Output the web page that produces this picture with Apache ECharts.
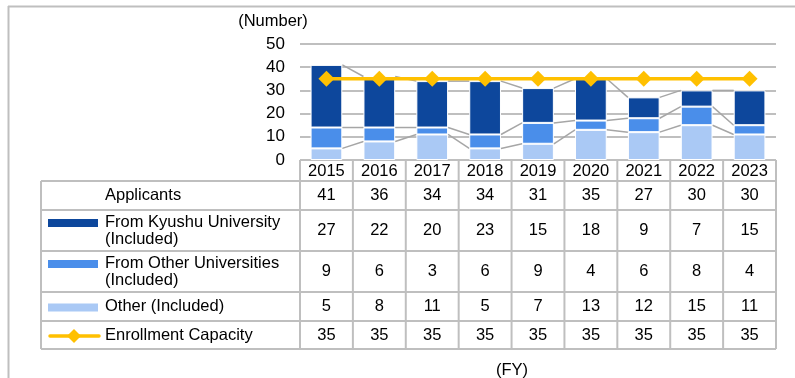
<!DOCTYPE html>
<html>
<head>
<meta charset="utf-8">
<script src="https://cdn.jsdelivr.net/npm/echarts@6/dist/echarts.min.js"></script>
<style>
  html, body { margin: 0; padding: 0; background: #fff; }
  #main { width: 795px; height: 378px; }
</style>
</head>
<body>
<div id="main"></div>
<script>
// Fiscal years and applicant breakdown
const years = ['2015', '2016', '2017', '2018', '2019', '2020', '2021', '2022', '2023'];
const applicants = [41, 36, 34, 34, 31, 35, 27, 30, 30];
const fromKyushu = [27, 22, 20, 23, 15, 18, 9, 7, 15];
const fromOtherUniv = [9, 6, 3, 6, 9, 4, 6, 8, 4];
const otherApplicants = [5, 8, 11, 5, 7, 13, 12, 15, 11];
const capacity = [35, 35, 35, 35, 35, 35, 35, 35, 35];
const yTicks = [0, 10, 20, 30, 40, 50];

const FONT = '"Liberation Sans", Arial, sans-serif';
const TEXT_SIZE = 16.5;
const C_DARK = '#0D479C';
const C_MID = '#4A8EEA';
const C_LIGHT = '#AAC9F5';
const C_CAP = '#FFC000';
const C_GRID = '#BFBFBF';

// Cumulative stack tops used by the series lines between bars
const top1 = otherApplicants.map(v => v);
const top2 = otherApplicants.map((v, i) => v + fromOtherUniv[i]);
const top3 = top2.map((v, i) => v + fromKyushu[i]);
const connectors = [];
for (let i = 0; i < years.length - 1; i++) {
  connectors.push([i, top1[i], top2[i], top3[i], top1[i + 1], top2[i + 1], top3[i + 1]]);
}

const BAR_RATIO = 0.6;
const chart = echarts.init(document.getElementById('main'), null, { renderer: 'canvas' });

chart.setOption({
  animation: false,
  backgroundColor: '#fff',
  textStyle: { fontFamily: FONT },
  grid: { left: 300, right: 19, top: 44, bottom: 218, containLabel: false },
  xAxis: {
    type: 'category',
    data: years,
    axisLine: { show: false },
    axisTick: { show: false },
    axisLabel: { color: '#000', fontSize: TEXT_SIZE, fontFamily: FONT, margin: 3, interval: 0 }
  },
  yAxis: {
    type: 'value',
    min: yTicks[0],
    max: yTicks[yTicks.length - 1],
    interval: 10,
    axisLine: { show: false },
    axisTick: { show: false },
    axisLabel: { color: '#000', fontSize: 17, fontFamily: FONT, margin: 15 },
    splitLine: { lineStyle: { color: C_GRID, width: 2 } }
  },
  series: [
    {
      name: 'Series lines',
      type: 'custom',
      z: 1,
      silent: true,
      data: connectors,
      encode: { x: 0, y: 1 },
      renderItem: function (params, api) {
        const i = api.value(0);
        const base = api.coord([i, 0]);
        const band = api.size([1, 0])[0];
        const half = band * BAR_RATIO / 2;
        const x0 = base[0] + half;
        const x1 = base[0] + band - half;
        const children = [];
        for (let k = 0; k < 3; k++) {
          const y0 = api.coord([i, api.value(1 + k)])[1];
          const y1 = api.coord([i + 1, api.value(4 + k)])[1];
          children.push({
            type: 'line',
            shape: { x1: x0, y1: y0, x2: x1, y2: y1 },
            style: { stroke: '#A6A6A6', lineWidth: 1.5 }
          });
        }
        return { type: 'group', children: children };
      }
    },
    {
      name: 'Other (Included)',
      type: 'bar', stack: 'total', barWidth: (BAR_RATIO * 100) + '%', z: 2,
      data: otherApplicants,
      itemStyle: { color: C_LIGHT, borderColor: '#fff', borderWidth: 1 }
    },
    {
      name: 'From Other Universities (Included)',
      type: 'bar', stack: 'total', barWidth: (BAR_RATIO * 100) + '%', z: 2,
      data: fromOtherUniv,
      itemStyle: { color: C_MID, borderColor: '#fff', borderWidth: 1 }
    },
    {
      name: 'From Kyushu University (Included)',
      type: 'bar', stack: 'total', barWidth: (BAR_RATIO * 100) + '%', z: 2,
      data: fromKyushu,
      itemStyle: { color: C_DARK, borderColor: '#fff', borderWidth: 1 }
    },
    {
      name: 'Enrollment Capacity',
      type: 'line', z: 5,
      data: capacity,
      symbol: 'diamond', symbolSize: [16, 16],
      lineStyle: { color: C_CAP, width: 3.5 },
      itemStyle: { color: C_CAP }
    }
  ]
});

// Data table underneath the plot, columns aligned with the category axis
const colCenters = years.map((y, i) => chart.convertToPixel({ xAxisIndex: 0 }, i));
const band = colCenters.length > 1 ? colCenters[1] - colCenters[0] : 50;
const tableLeft = 41;
const colLeft = colCenters[0] - band / 2;
const colRight = colCenters[colCenters.length - 1] + band / 2;
const axisY = chart.convertToPixel({ yAxisIndex: 0 }, 0);
const rowEdges = [axisY, 181, 210, 251, 292, 321, 349];

const rows = [
  { label: ['Applicants'], values: applicants, icon: null },
  { label: ['From Kyushu University', '(Included)'], values: fromKyushu, icon: { type: 'bar', color: C_DARK } },
  { label: ['From Other Universities', '(Included)'], values: fromOtherUniv, icon: { type: 'bar', color: C_MID } },
  { label: ['Other (Included)'], values: otherApplicants, icon: { type: 'bar', color: C_LIGHT } },
  { label: ['Enrollment Capacity'], values: capacity, icon: { type: 'line', color: C_CAP } }
];

const g = [];
const lineStyle = { stroke: C_GRID, lineWidth: 2 };
const font = TEXT_SIZE + 'px ' + FONT;
// outer frame (top and left edges)
g.push({ type: 'line', shape: { x1: 8, y1: 6.5, x2: 795, y2: 6.5 }, style: lineStyle, silent: true });
g.push({ type: 'line', shape: { x1: 8.5, y1: 6, x2: 8.5, y2: 378 }, style: lineStyle, silent: true });

// table borders
g.push({ type: 'line', shape: { x1: colLeft, y1: rowEdges[0], x2: colRight, y2: rowEdges[0] }, style: lineStyle, silent: true });
for (let r = 1; r < rowEdges.length; r++) {
  g.push({ type: 'line', shape: { x1: tableLeft, y1: rowEdges[r], x2: colRight, y2: rowEdges[r] }, style: lineStyle, silent: true });
}
g.push({ type: 'line', shape: { x1: tableLeft, y1: rowEdges[1], x2: tableLeft, y2: rowEdges[rowEdges.length - 1] }, style: lineStyle, silent: true });
for (let c = 0; c <= years.length; c++) {
  const x = colLeft + c * band;
  g.push({ type: 'line', shape: { x1: x, y1: rowEdges[0], x2: x, y2: rowEdges[rowEdges.length - 1] }, style: lineStyle, silent: true });
}

rows.forEach((row, r) => {
  const yTop = rowEdges[r + 1];
  const yBot = rowEdges[r + 2];
  const yMid = (yTop + yBot) / 2;
  const lineH = 17;
  const firstLineY = yMid - (row.label.length - 1) * lineH / 2;
  row.label.forEach((t, k) => {
    g.push({
      type: 'text', silent: true,
      style: { text: t, x: 105, y: firstLineY + k * lineH, fill: '#000', font: font, textAlign: 'left', textVerticalAlign: 'middle' }
    });
  });
  if (row.icon) {
    if (row.icon.type === 'bar') {
      g.push({ type: 'rect', silent: true, shape: { x: 48, y: firstLineY - 3, width: 50, height: 8 }, style: { fill: row.icon.color } });
    } else {
      g.push({ type: 'line', silent: true, shape: { x1: 50, y1: firstLineY + 1, x2: 99, y2: firstLineY + 1 }, style: { stroke: row.icon.color, lineWidth: 3.5, lineCap: 'round' } });
      g.push({ type: 'polygon', silent: true, shape: { points: [[74, firstLineY - 6], [81, firstLineY + 1], [74, firstLineY + 8], [67, firstLineY + 1]] }, style: { fill: row.icon.color } });
    }
  }
  row.values.forEach((v, i) => {
    g.push({
      type: 'text', silent: true,
      style: { text: String(v), x: colCenters[i], y: yMid, fill: '#000', font: font, textAlign: 'center', textVerticalAlign: 'middle' }
    });
  });
});

// unit captions
g.push({ type: 'text', silent: true, style: { text: '(Number)', x: 273, y: 21, fill: '#000', font: font, textAlign: 'center', textVerticalAlign: 'middle' } });
g.push({ type: 'text', silent: true, style: { text: '(FY)', x: 512, y: 370, fill: '#000', font: font, textAlign: 'center', textVerticalAlign: 'middle' } });

chart.setOption({ graphic: { elements: g } });
</script>
</body>
</html>
